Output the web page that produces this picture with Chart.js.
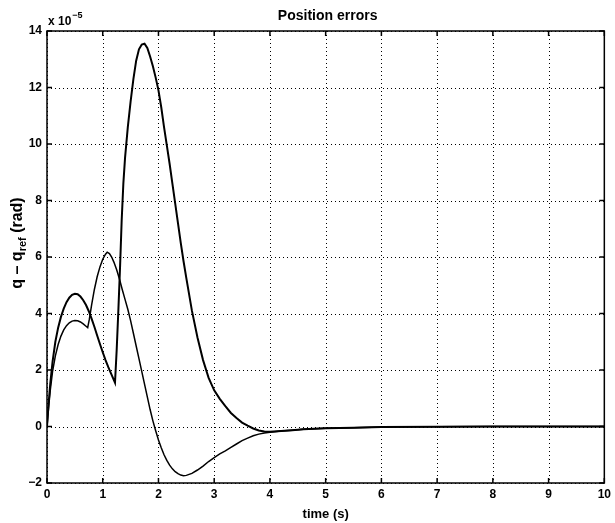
<!DOCTYPE html>
<html>
<head>
<meta charset="utf-8">
<title>Position errors</title>
<script src="https://cdn.jsdelivr.net/npm/chart.js@4"></script>
<style>
  html, body { margin: 0; padding: 0; background: #fff; }
  #wrap { width: 615px; height: 523px; }
</style>
</head>
<body>
<div id="wrap"><canvas id="errChart" width="615" height="523"></canvas></div>
<script>
// values in units of 1e-5 rad
const timeA = [0, 0.03, 0.06, 0.1, 0.15, 0.2, 0.25, 0.3, 0.35, 0.4, 0.45, 0.5, 0.55, 0.6, 0.65, 0.7, 0.75, 0.8, 0.85, 0.9, 0.95, 1.0, 1.05, 1.1, 1.15, 1.22, 1.25, 1.28, 1.31, 1.34, 1.37, 1.4, 1.45, 1.5, 1.55, 1.6, 1.65, 1.7, 1.75, 1.8, 1.85, 1.9, 1.95, 2.0, 2.05, 2.1, 2.15, 2.2, 2.25, 2.3, 2.35, 2.4, 2.45, 2.5, 2.6, 2.7, 2.8, 2.9, 3.0, 3.1, 3.2, 3.3, 3.4, 3.5, 3.6, 3.7, 3.8, 3.9, 4.0, 4.2, 4.4, 4.6, 4.8, 5.0, 5.5, 6, 7, 8, 9, 10];
const errA = [0, 0.85, 1.55, 2.3, 3.0, 3.5, 3.88, 4.17, 4.4, 4.56, 4.66, 4.7, 4.68, 4.6, 4.47, 4.3, 4.08, 3.82, 3.53, 3.22, 2.92, 2.63, 2.35, 2.1, 1.87, 1.55, 2.7, 4.1, 5.6, 7.3, 8.6, 9.5, 10.6, 11.5, 12.3, 12.95, 13.35, 13.52, 13.55, 13.4, 13.1, 12.75, 12.35, 11.9, 11.3, 10.6, 9.95, 9.3, 8.6, 7.9, 7.2, 6.5, 5.85, 5.25, 4.1, 3.15, 2.35, 1.72, 1.28, 0.98, 0.72, 0.48, 0.3, 0.14, 0.03, -0.07, -0.14, -0.18, -0.19, -0.16, -0.13, -0.1, -0.08, -0.06, -0.04, -0.02, -0.01, 0, 0, 0];

const timeB = [0, 0.03, 0.06, 0.1, 0.15, 0.2, 0.25, 0.3, 0.35, 0.4, 0.45, 0.5, 0.55, 0.6, 0.65, 0.7, 0.73, 0.76, 0.8, 0.85, 0.9, 0.95, 1.0, 1.05, 1.08, 1.12, 1.16, 1.2, 1.25, 1.3, 1.35, 1.4, 1.45, 1.5, 1.55, 1.6, 1.65, 1.7, 1.75, 1.8, 1.85, 1.9, 1.95, 2.0, 2.05, 2.1, 2.15, 2.2, 2.25, 2.3, 2.35, 2.4, 2.45, 2.5, 2.6, 2.7, 2.8, 2.9, 3.0, 3.1, 3.2, 3.3, 3.4, 3.5, 3.6, 3.7, 3.8, 3.9, 4.0, 4.2, 4.4, 4.6, 4.8, 5.0, 5.5, 6, 7, 8, 9, 10];
const errB = [0, 0.7, 1.3, 1.95, 2.5, 2.9, 3.2, 3.42, 3.57, 3.67, 3.73, 3.75, 3.74, 3.7, 3.63, 3.55, 3.5, 3.8, 4.3, 4.85, 5.3, 5.65, 5.92, 6.1, 6.17, 6.12, 6.0, 5.82, 5.55, 5.22, 4.85, 4.5, 4.15, 3.75, 3.3, 2.85, 2.4, 1.95, 1.5, 1.05, 0.6, 0.2, -0.15, -0.48, -0.75, -1.0, -1.2, -1.37, -1.5, -1.6, -1.67, -1.72, -1.74, -1.73, -1.66, -1.54, -1.4, -1.24, -1.1, -0.97, -0.86, -0.74, -0.62, -0.5, -0.41, -0.33, -0.27, -0.23, -0.2, -0.16, -0.13, -0.1, -0.08, -0.06, -0.04, -0.02, -0.01, 0, 0, 0];

const xTicks = [0, 1, 2, 3, 4, 5, 6, 7, 8, 9, 10];
const yTicks = [-2, 0, 2, 4, 6, 8, 10, 12, 14];

const FONT = '"Liberation Sans", Arial, Helvetica, sans-serif';

function toPoints(ts, vs) {
  return ts.map((t, i) => ({ x: t, y: vs[i] }));
}

// matlab style frame: dotted grid, box, inward ticks, labels
const matlabFrame = {
  id: 'matlabFrame',
  beforeDatasetsDraw(chart) {
    const { ctx, chartArea: a, scales: { x, y } } = chart;
    ctx.save();
    ctx.strokeStyle = '#000';
    ctx.lineWidth = 1;
    ctx.setLineDash([1, 3]);
    ctx.beginPath();
    xTicks.forEach(v => {
      const px = Math.round(x.getPixelForValue(v)) + 0.5;
      ctx.moveTo(px, a.top);
      ctx.lineTo(px, a.bottom);
    });
    yTicks.forEach(v => {
      const py = Math.round(y.getPixelForValue(v)) + 0.5;
      ctx.moveTo(a.left, py);
      ctx.lineTo(a.right, py);
    });
    ctx.stroke();
    ctx.restore();
  },
  afterDatasetsDraw(chart) {
    const { ctx, chartArea: a, scales: { x, y } } = chart;
    ctx.save();
    ctx.strokeStyle = '#000';
    ctx.lineWidth = 1.5;
    ctx.strokeRect(a.left, a.top, a.right - a.left, a.bottom - a.top);

    const tl = 5;
    ctx.beginPath();
    xTicks.forEach(v => {
      const px = x.getPixelForValue(v);
      ctx.moveTo(px, a.bottom); ctx.lineTo(px, a.bottom - tl);
      ctx.moveTo(px, a.top); ctx.lineTo(px, a.top + tl);
    });
    yTicks.forEach(v => {
      const py = y.getPixelForValue(v);
      ctx.moveTo(a.left, py); ctx.lineTo(a.left + tl, py);
      ctx.moveTo(a.right, py); ctx.lineTo(a.right - tl, py);
    });
    ctx.stroke();

    ctx.fillStyle = '#000';
    const cx = (a.left + a.right) / 2;

    // title
    ctx.font = 'bold 14px ' + FONT;
    ctx.textAlign = 'center';
    ctx.textBaseline = 'alphabetic';
    ctx.fillText('Position errors', cx + 2, 20);

    // x label
    ctx.font = 'bold 13px ' + FONT;
    ctx.fillText('time (s)', cx, 518);

    // exponent
    ctx.textAlign = 'left';
    ctx.font = 'bold 12px ' + FONT;
    ctx.fillText('x 10', a.left + 1, 25);
    const w10 = ctx.measureText('x 10').width;
    ctx.font = 'bold 9px ' + FONT;
    ctx.fillText('\u22125', a.left + 2 + w10, 18);

    // y label with subscript
    ctx.translate(22, 243);
    ctx.rotate(-Math.PI / 2);
    const big = 'bold 16px ' + FONT;
    const small = 'bold 11px ' + FONT;
    ctx.font = big;
    const w1 = ctx.measureText('q \u2013 q').width;
    const w3 = ctx.measureText(' (rad)').width;
    ctx.font = small;
    const w2 = ctx.measureText('ref').width;
    let sx = -(w1 + w2 + w3) / 2;
    ctx.font = big;
    ctx.fillText('q \u2013 q', sx, 0);
    sx += w1;
    ctx.font = small;
    ctx.fillText('ref', sx, 4);
    sx += w2;
    ctx.font = big;
    ctx.fillText(' (rad)', sx, 0);
    ctx.restore();
  }
};

const ctx = document.getElementById('errChart').getContext('2d');

new Chart(ctx, {
  type: 'line',
  data: {
    datasets: [
      {
        label: 'joint 1',
        data: toPoints(timeA, errA),
        borderColor: '#000',
        borderWidth: 2,
        pointRadius: 0,
        tension: 0,
        fill: false
      },
      {
        label: 'joint 2',
        data: toPoints(timeB, errB),
        borderColor: '#000',
        borderWidth: 1.5,
        pointRadius: 0,
        tension: 0,
        fill: false
      }
    ]
  },
  options: {
    responsive: false,
    animation: false,
    devicePixelRatio: 1,
    layout: { padding: { left: 0, top: 31, right: 3, bottom: 0 } },
    plugins: {
      legend: { display: false },
      title: { display: false },
      tooltip: { enabled: false }
    },
    scales: {
      x: {
        type: 'linear',
        min: 0,
        max: 10,
        afterBuildTicks: s => { s.ticks = xTicks.map(v => ({ value: v })); },
        afterFit: s => { s.height = 40; },
        grid: { display: false, drawTicks: false },
        border: { display: false },
        ticks: {
          color: '#000',
          padding: 4,
          maxRotation: 0,
          font: { family: FONT, size: 12, weight: 'bold' }
        }
      },
      y: {
        type: 'linear',
        min: -2,
        max: 14,
        afterBuildTicks: s => { s.ticks = yTicks.map(v => ({ value: v })); },
        afterFit: s => { s.width = 47; },
        grid: { display: false, drawTicks: false },
        border: { display: false },
        ticks: {
          color: '#000',
          padding: 5,
          font: { family: FONT, size: 12, weight: 'bold' },
          callback: v => (v < 0 ? '\u2212' + Math.abs(v) : String(v))
        }
      }
    }
  },
  plugins: [matlabFrame]
});
</script>
</body>
</html>
